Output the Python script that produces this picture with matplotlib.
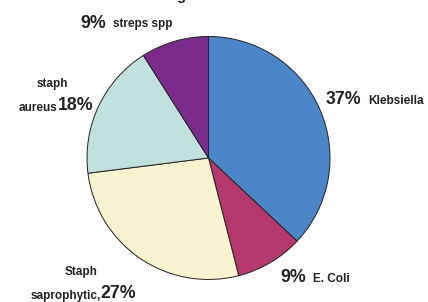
import matplotlib
matplotlib.use("Agg")
import matplotlib.pyplot as plt

plt.rcParams['font.family'] = ['Liberation Sans', 'DejaVu Sans']

categories = ["Klebsiella", "E. Coli", "Staph\nsaprophytic,", "staph\naureus", "streps spp"]
values = [37, 9, 27, 18, 9]
colors = ["#4a86c8", "#b5386f", "#f8f3cf", "#c1e1df", "#7b2b8b"]
title = "Bacterial Isolates Among Urine Cultures from Adults"

W, H = 428, 302
fig = plt.figure(figsize=(W / 100, H / 100), dpi=100)

cx, cy, r = 208.5, 158.0, 121.5
ax = fig.add_axes([(cx - r) / W, 1 - (cy + r) / H, 2 * r / W, 2 * r / H])
ax.pie(values, colors=colors, startangle=90, counterclock=False,
       wedgeprops=dict(edgecolor="#222222", linewidth=0.7))
ax.set_xlim(-1, 1)
ax.set_ylim(-1, 1)
ax.set_aspect("equal")
ax.axis("off")

def t(x, y, s, size, ha="left"):
    fig.text(x / W, 1 - y / H, s, fontsize=size, fontweight="bold",
             color="#222222", ha=ha, va="center")

pct = [f"{v}%" for v in values]
big, small = 12.8, 8.5

# Klebsiella
t(326, 100, pct[0], big)
t(368, 101, categories[0], small)
# E. Coli
t(280, 278, pct[1], big)
t(313, 279, categories[1], small)
# Staph saprophytic
n1, n2 = categories[2].split("\n")
t(81, 272, n1, small, ha="center")
t(101, 296, n2, small, ha="right")
t(100, 294, pct[2], big)
# staph aureus
n1, n2 = categories[3].split("\n")
t(52, 84, n1, small, ha="center")
t(57, 108, n2, small, ha="right")
t(58, 106, pct[3], big)
# streps spp
t(80, 23, pct[4], big)
t(113, 24, categories[4], small)

fig.text(195 / W, 1 + 0.3 / H, title, fontsize=11, fontweight="bold",
         color="#222222", ha="center", va="baseline")

fig.savefig("out.png", dpi=100)
